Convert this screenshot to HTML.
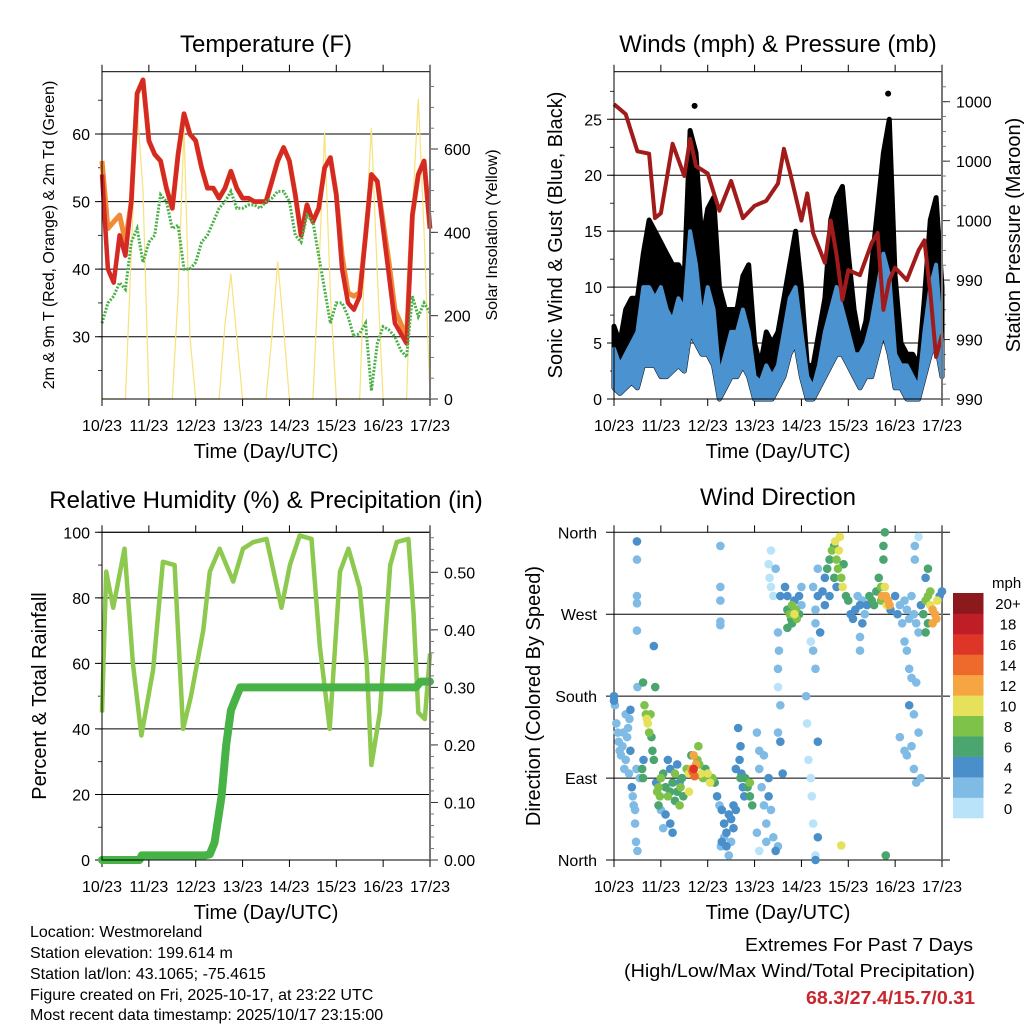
<!DOCTYPE html>
<html><head><meta charset="utf-8"><style>
html,body{margin:0;padding:0;background:#fff;}
svg{display:block;font-family:"Liberation Sans",sans-serif;}
</style></head><body>
<svg id="fig" width="1024" height="1024" viewBox="0 0 1024 1024" xmlns="http://www.w3.org/2000/svg">
<g id="layer"></g>
<text x="266" y="52" font-size="24" text-anchor="middle">Temperature (F)</text>
<text x="778" y="52" font-size="24" text-anchor="middle">Winds (mph) &amp; Pressure (mb)</text>
<text x="266" y="508" font-size="24" text-anchor="middle">Relative Humidity (%) &amp; Precipitation (in)</text>
<text x="778" y="505" font-size="24" text-anchor="middle">Wind Direction</text>
<text transform="translate(54,235) rotate(-90)" font-size="16" text-anchor="middle">2m &amp; 9m T (Red, Orange) &amp; 2m Td (Green)</text>
<text transform="translate(497,235) rotate(-90)" font-size="16" text-anchor="middle">Solar Insolation (Yellow)</text>
<text transform="translate(562,235) rotate(-90)" font-size="20" text-anchor="middle">Sonic Wind &amp; Gust (Blue, Black)</text>
<text transform="translate(1020,235) rotate(-90)" font-size="20" text-anchor="middle">Station Pressure (Maroon)</text>
<text transform="translate(46,696) rotate(-90)" font-size="20" text-anchor="middle">Percent &amp; Total Rainfall</text>
<text transform="translate(540,696) rotate(-90)" font-size="20" text-anchor="middle">Direction (Colored By Speed)</text>
<text x="266" y="458" font-size="20" text-anchor="middle">Time (Day/UTC)</text>
<text x="778" y="458" font-size="20" text-anchor="middle">Time (Day/UTC)</text>
<text x="266" y="919" font-size="20" text-anchor="middle">Time (Day/UTC)</text>
<text x="778" y="919" font-size="20" text-anchor="middle">Time (Day/UTC)</text>
<g font-size="16">
<text x="30" y="937">Location: Westmoreland</text>
<text x="30" y="958">Station elevation: 199.614 m</text>
<text x="30" y="979">Station lat/lon: 43.1065; -75.4615</text>
<text x="30" y="1000">Figure created on Fri, 2025-10-17, at 23:22 UTC</text>
<text x="30" y="1020">Most recent data timestamp: 2025/10/17 23:15:00</text>
</g>
<text x="745" y="951" font-size="18" textLength="228" lengthAdjust="spacingAndGlyphs">Extremes For Past 7 Days</text>
<text x="624" y="977" font-size="18" textLength="351" lengthAdjust="spacingAndGlyphs">(High/Low/Max Wind/Total Precipitation)</text>
<text x="806" y="1004" font-size="18" font-weight="bold" fill="#c8272e" textLength="169" lengthAdjust="spacingAndGlyphs">68.3/27.4/15.7/0.31</text>
</svg>
<script>
// ---------- DATA ----------
const dayLabels = ["10/23","11/23","12/23","13/23","14/23","15/23","16/23","17/23"];
const tStep8 = [0,0.125,0.25,0.375,0.5,0.625,0.75,0.875,1,1.125,1.25,1.375,1.5,1.625,1.75,1.875,2,2.125,2.25,2.375,2.5,2.625,2.75,2.875,3,3.125,3.25,3.375,3.5,3.625,3.75,3.875,4,4.125,4.25,4.375,4.5,4.625,4.75,4.875,5,5.125,5.25,5.375,5.5,5.625,5.75,5.875,6,6.125,6.25,6.375,6.5,6.625,6.75,6.875,7];
const temp2m = [54,40,38,45,42,50,66,68,59,57,56,52,49,57,63,60,59,55,52,52,50.5,52,54.5,52,50.5,50.5,50,50,50,53,56,58,56,51,45,49.5,47,49,55,56.5,51,40,35,34,36,45,54,53,46,39,32,30.5,29,48,54,56,46];
const temp9m = [56,46,47,48,44,50,66,68,59,57,56,52,49,57,63,60,59,55,52,52,50.5,52,54.5,52,50.5,50.5,50,50,50,53,56,58,56,51,45,49.5,47,49,55,56.5,51,42,36.5,36,36.5,45,54,53,47,41,34,32,30,48,54,56,46];
const dewpoint = [32,35,36,38,37,44,46,41,44,45,51,50,46,46.5,40,40,41,44,45,47,49,50,51.5,49,49,49.5,49.5,49,50,50.5,51.5,51.5,50,45,44,48,47,42,37,32,35,35,33,30,30.5,32,22,29,31.5,31,30,28,27,36,33,35,33.5];
const solar = [0,0,0,0,0,350,700,500,0,0,0,0,0,250,650,150,0,0,0,0,0,180,300,150,0,0,0,0,0,150,330,170,0,0,0,0,0,300,640,250,0,0,0,0,0,400,650,300,0,0,0,0,0,450,720,400,0];
const windHigh = [4.5,3,4,5,6,10,10,9,10,8,7,9,8,15,12,7,10,8,2,4,6,6,8,6,2,1.5,3,2,3,6,9,10,6,2,1,3,6,8,10,8,6,4,4,5,7,10,13,11,4,3,3,2,1,6,10,12,5];
const windLow = [1,0.5,1,1.5,1,3,3,3,2,2,2.5,3,2.5,6,5,4,4,3,0,1,2,2,3,2,0,0,0,0,1,2,4,5,2,0,0,1,2,3,4,4,3,2,1,2,2,4,6,4,1,1,0,0,0,2,4,5,2];
const gust = [6.5,5,8,9,9,13,16,15,14,13,12,12,11,24,22,14,17,18,10,8,8,8,11,12,5,3,6,5,6,9,12,15,10,3,3,6,9,16,18,19,13,8,5,7,12,17,22,25,11,5,4,4,3,9,16,18,10];
const gustPeakT = [1.72,5.85];
const gustPeakV = [26.2,27.3];
const pressT = [0,0.25,0.5,0.75,0.875,1,1.25,1.5,1.625,1.75,2,2.25,2.5,2.75,3,3.25,3.5,3.625,3.75,4,4.125,4.25,4.5,4.625,4.75,4.875,5,5.25,5.5,5.625,5.75,5.875,6,6.25,6.5,6.625,6.75,6.875,7];
const pressV = [999.9,999.5,998,997.9,995.3,995.5,998.3,997,998.5,997.4,997.1,995.6,996.8,995.3,995.8,996,996.7,998.1,997.2,995.2,996.3,994.7,993.5,995.2,993.8,992,993.2,993,994.3,994.7,991.6,992.8,993.3,992.8,994,994.4,992.3,989.7,990.6];
const pressTickVals = [988,990.4,992.8,995.2,997.6,1000];
const rhT = [0,0.09,0.24,0.48,0.66,0.84,1.09,1.3,1.55,1.73,1.9,2.16,2.3,2.51,2.8,3.01,3.23,3.51,3.83,4.01,4.22,4.47,4.65,4.86,5.08,5.26,5.5,5.65,5.75,5.93,6.15,6.29,6.54,6.65,6.75,6.89,7];
const rhV = [45,88,77,95,60,38,58,91,90,40,50,70,88,95,85,95,97,98,77,90,99,98,65,40,88,95,83,60,29,45,90,97,98,75,45,43,63];
const precipT = [0,0.8,0.85,2.2,2.3,2.4,2.55,2.65,2.75,2.85,2.95,6.7,6.8,7];
const precipV = [0,0,0.008,0.008,0.01,0.03,0.11,0.2,0.26,0.28,0.3,0.3,0.31,0.31];
const dirLabels = ["North","East","South","West","North"];
const speedBinLabels = ["0","2","4","6","8","10","12","14","16","18","20+"];
const dirT = [0,0,0.02,0.05,0.08,0.1,0.12,0.15,0.18,0.2,0.22,0.25,0.28,0.3,0.32,0.35,0.35,0.38,0.4,0.42,0.45,0.47,0.45,0.33,0.25,
0.62,0.65,0.68,0.7,0.72,0.75,0.78,0.8,0.82,0.85,0.88,0.6,0.62,0.63,0.9,0.92,0.95,0.98,1.0,0.95,0.55,0.5,0.48,0.5,0.49,0.49,0.49,0.49,0.85,0.49,
1.05,1.1,1.15,1.2,1.2,1.25,1.3,1.3,1.35,1.4,1.42,1.45,1.48,1.2,1.25,1.15,1.1,1.0,1.05,1.35,1.4,
1.55,1.6,1.65,1.68,1.7,1.72,1.75,1.7,1.78,1.8,1.82,1.85,1.9,1.95,2.0,2.05,2.1,2.15,2.2,2.25,1.6,1.65,
2.27,2.27,2.27,2.27,2.27,
2.3,2.35,2.4,2.45,2.5,2.55,2.3,2.4,2.35,2.5,2.6,2.55,2.45,2.28,
2.65,2.7,2.68,2.72,2.75,2.78,2.8,2.85,2.9,2.95,2.7,2.6,2.9,
3.05,3.1,3.1,3.15,3.2,3.25,3.3,3.3,3.35,3.4,3.45,3.5,3.05,3.1,3.25,3.2,
3.3,3.35,3.32,3.35,3.4,3.45,3.55,3.5,3.52,3.5,3.5,3.55,3.5,3.55,3.6,
3.65,3.7,3.7,3.75,3.78,3.8,3.85,3.88,3.9,3.95,3.8,3.7,3.85,3.95,4.0,4.0,
4.1,4.12,4.15,4.2,4.22,4.25,4.2,4.25,4.3,4.3,4.35,4.4,4.35,4.3,4.3,4.35,4.3,4.35,4.25,
4.45,4.5,4.55,4.6,4.65,4.7,4.72,4.75,4.78,4.8,4.82,4.85,4.88,4.9,4.6,4.5,4.7,4.75,4.85,
4.95,5.0,5.05,5.1,5.15,5.2,5.25,5.3,5.35,5.4,5.45,5.5,5.55,5.6,5.25,5.25,5.3,
5.65,5.7,5.72,5.75,5.78,5.8,5.82,5.85,5.88,5.75,5.78,5.8,5.7,5.9,
6.0,6.05,6.1,6.15,6.2,6.25,6.3,6.35,6.4,6.45,6.5,6.2,6.25,6.3,6.35,6.3,6.1,6.2,6.25,6.35,6.4,6.45,6.45,6.4,6.5,6.55,6.42,6.5,6.42,
6.55,6.6,6.65,6.7,6.75,6.8,6.85,6.88,6.9,6.95,6.7,6.65,6.65,6.7,6.75,6.8,7.0];
const dirDeg = [180,175,170,150,140,130,120,115,125,140,100,110,135,145,95,120,165,80,70,60,40,20,55,155,160,
195,170,160,155,150,140,160,135,120,110,190,100,90,110,85,75,80,70,90,60,90,190,100,10,350,330,282,252,235,290,
95,80,70,100,75,85,65,95,75,60,80,90,70,40,30,110,50,55,35,105,85,
100,95,100,97,100,92,105,115,110,125,105,95,90,100,95,85,90,85,70,60,75,115,
345,285,300,262,258,
55,40,30,50,45,35,20,15,25,20,55,60,5,15,
145,125,110,95,80,70,90,80,70,60,90,100,85,
140,120,100,80,60,40,90,70,55,25,10,15,30,10,20,115,
325,340,310,300,290,320,290,250,230,210,190,170,140,130,95,
300,290,275,270,265,280,270,275,265,270,260,255,285,290,280,300,
180,150,110,90,70,40,240,230,210,260,290,250,130,5,0,25,275,320,300,
295,310,320,330,340,345,350,330,320,340,355,310,300,325,290,280,310,300,16,
290,285,270,265,275,290,280,285,270,280,290,285,280,295,245,230,260,
310,300,290,330,300,290,280,285,280,345,360,5,285,275,
290,270,280,260,285,275,265,290,270,260,250,240,230,210,200,170,135,120,115,125,100,85,195,160,140,90,330,355,345,
280,270,285,290,280,275,270,265,285,290,260,250,310,320,295,260,295];
const dirSpeed = [4,4,3,2,2,2,2,3,2,2,2,2,3,2,3,4,4,4,3,2,3,2,2,2,2,
6,8,8,10,10,8,8,6,6,6,6,6,6,4,4,8,8,8,8,6,2,2,2,2,4,3,2,2,4,2,
6,6,8,4,6,6,6,8,6,8,8,6,6,4,4,4,4,2,2,4,4,
8,10,12,14,16,14,12,12,8,8,8,10,8,6,10,10,8,6,4,2,10,6,
2,2,2,3,3,
4,4,4,4,4,4,4,4,3,2,4,4,2,2,
4,4,4,4,4,4,6,6,6,6,6,4,8,
2,2,2,2,2,2,4,4,2,2,4,2,2,0,2,2,
0,0,0,0,0,2,4,2,2,2,0,2,2,4,4,
4,4,6,8,6,8,10,8,8,6,6,6,4,4,2,2,
2,0,0,0,0,0,0,2,2,2,4,4,4,0,4,4,2,2,2,
4,4,6,6,8,6,10,8,8,10,10,8,10,6,4,4,6,4,10,
6,6,4,4,4,2,4,2,2,4,6,6,6,6,2,2,4,
6,8,12,6,10,12,10,12,12,6,6,6,8,4,
4,4,2,2,2,2,2,2,2,2,2,2,2,2,2,4,2,2,2,2,2,2,2,2,2,2,2,0,2,
4,6,8,8,10,12,12,12,10,4,6,6,4,6,8,12,4];

// ---------- HELPERS ----------
const NS = "http://www.w3.org/2000/svg";
const layer = document.getElementById("layer");
function mk(tag, attrs, parent) {
  const e = document.createElementNS(NS, tag);
  for (const k in attrs) e.setAttribute(k, attrs[k]);
  (parent || layer).appendChild(e);
  return e;
}
function lin(d0, d1, r0, r1) { return v => r0 + (v - d0) * (r1 - r0) / (d1 - d0); }
const speedColors = ["#b8e3f8","#7fbbe5","#4a8fca","#4aa56f","#7fc24a","#e5e15a","#f5a541","#ee6a2c","#dd3528","#c01e26","#8c1a1c"];
const TF = 16;

function panel(name, x0, x1, y0, y1) {
  const g = mk("g", {});
  
  
  return { g, x0, x1, y0, y1, x: lin(0, 7, x0, x1) };
}
function xAxis(p, name) {
  const g = mk("g", {}, p.g);
  
  
  dayLabels.forEach((lab, i) => {
    const x = p.x(i);
    const t1 = mk("line", { x1: x, x2: x, y1: p.y0, y2: p.y0 - 7, stroke: "#000", "stroke-width": 1 }, g);
    
    
    const t2 = mk("line", { x1: x, x2: x, y1: p.y1, y2: p.y1 + 7, stroke: "#000", "stroke-width": 1 }, g);
    
    
    const tx = mk("text", { x: x, y: p.y1 + 32, "font-size": TF, "text-anchor": "middle" }, g);
    
    
    tx.textContent = lab;
  });
}
function leftAxis(p, yf, majors, minors, labels, name, grid) {
  const g = mk("g", {}, p.g);
  
  
  minors.forEach(v => {
    const y = yf(v);
    const l = mk("line", { x1: p.x0, x2: p.x0 - 4, y1: y, y2: y, stroke: "#000", "stroke-width": 0.8 }, g);
    
    
  });
  majors.forEach((v, i) => {
    const y = yf(v);
    const l = mk("line", { x1: p.x0 - 7, x2: grid ? p.x1 : p.x0, y1: y, y2: y, stroke: "#000", "stroke-width": 1 }, g);
    
    
    const t = mk("text", { x: p.x0 - 12, y: y + 6, "font-size": TF, "text-anchor": "end" }, g);
    
    
    t.textContent = labels[i];
  });
}
function rightAxis(p, yf, majors, minors, labels, name) {
  const g = mk("g", {}, p.g);
  
  
  minors.forEach(v => {
    const y = yf(v);
    const l = mk("line", { x1: p.x1, x2: p.x1 + 4, y1: y, y2: y, stroke: "#555", "stroke-width": 0.8 }, g);
    
    
  });
  majors.forEach((v, i) => {
    const y = yf(v);
    const l = mk("line", { x1: p.x1, x2: p.x1 + 8, y1: y, y2: y, stroke: "#333", "stroke-width": 1 }, g);
    
    
    const t = mk("text", { x: p.x1 + 14, y: y + 6, "font-size": TF }, g);
    
    
    t.textContent = labels[i];
  });
}
function frame(p) {
  const r = mk("rect", { x: p.x0, y: p.y0, width: p.x1 - p.x0, height: p.y1 - p.y0, fill: "none", stroke: "#000", "stroke-width": 1 }, p.g);
  
  
  const rr = mk("line", { x1: p.x1, x2: p.x1, y1: p.y0, y2: p.y1, stroke: "#777", "stroke-width": 2 }, p.g);
  
  
}
function pathFrom(ts, vs, xf, yf) {
  return ts.map((t, i) => (i ? "L" : "M") + xf(t).toFixed(1) + "," + yf(vs[i]).toFixed(1)).join("");
}
function range(a, b, s) { const r = []; for (let v = a; v <= b + 1e-9; v += s) r.push(+v.toFixed(4)); return r; }

// ---------- PANEL 1: TEMPERATURE ----------
{
  const p = panel("temperature-panel", 102, 430, 71.7, 399);
  const y = lin(30, 60, 336.7, 134);
  const ys = lin(0, 600, 399, 149);
  leftAxis(p, y, [30, 40, 50, 60], range(25, 65, 5), ["30", "40", "50", "60"], "temperature-y-axis", true);
  rightAxis(p, ys, [0, 200, 400, 600], range(0, 750, 50), ["0", "200", "400", "600"], "solar-y-axis");
  xAxis(p, "temperature-x-axis");
  const s = mk("path", { d: pathFrom(tStep8, solar, p.x, ys), fill: "none", stroke: "#f7e27c", "stroke-width": 1.2 }, p.g);
  
  
  const o = mk("path", { d: pathFrom(tStep8, temp9m, p.x, y), fill: "none", stroke: "#f08a34", "stroke-width": 5, "stroke-linejoin": "round" }, p.g);
  
  
  const r = mk("path", { d: pathFrom(tStep8, temp2m, p.x, y), fill: "none", stroke: "#d42a23", "stroke-width": 4.5, "stroke-linejoin": "round" }, p.g);
  
  
  const d = mk("path", { d: pathFrom(tStep8, dewpoint, p.x, y), fill: "none", stroke: "#4cb04a", "stroke-width": 3, "stroke-dasharray": "2 1.5" }, p.g);
  
  
  frame(p);
}

// ---------- PANEL 2: WINDS ----------
{
  const p = panel("winds-panel", 614, 942, 71.7, 399);
  const y = lin(0, 25, 399, 119.3);
  const yp = lin(988, 1000, 399, 101.7);
  leftAxis(p, y, [0, 5, 10, 15, 20, 25], range(0, 29, 2.5), ["0", "5", "10", "15", "20", "25"], "wind-y-axis", true);
  rightAxis(p, yp, pressTickVals, range(988, 1001, 0.6), pressTickVals.map(v => String(Math.round(v / 10) * 10)), "pressure-y-axis");
  xAxis(p, "winds-x-axis");
  const gp = pathFrom(tStep8, gust, p.x, y) + tStep8.slice().reverse().map(t => "L" + p.x(t).toFixed(1) + "," + y(windLow[tStep8.indexOf(t)]).toFixed(1)).join("") + "Z";
  const ga = mk("path", { d: gp, fill: "#000", stroke: "#000", "stroke-width": 5, "stroke-linejoin": "round" }, p.g);
  
  
  gustPeakT.forEach((t, i) => {
    const c = mk("circle", { cx: p.x(t), cy: y(gustPeakV[i]), r: 3, fill: "#000" }, p.g);
    
    
  });
  const wp = pathFrom(tStep8, windHigh, p.x, y) + tStep8.slice().reverse().map(t => "L" + p.x(t).toFixed(1) + "," + y(windLow[tStep8.indexOf(t)]).toFixed(1)).join("") + "Z";
  const wa = mk("path", { d: wp, fill: "#4b93d0", stroke: "#4b93d0", "stroke-width": 4, "stroke-linejoin": "round" }, p.g);
  
  
  const pl = mk("path", { d: pathFrom(pressT, pressV, p.x, yp), fill: "none", stroke: "#a11b1b", "stroke-width": 4, "stroke-linejoin": "round" }, p.g);
  
  
  frame(p);
}

// ---------- PANEL 3: HUMIDITY ----------
{
  const p = panel("humidity-panel", 102, 430, 532.3, 860);
  const y = lin(0, 100, 860, 532.3);
  const yr = lin(0, 0.5, 860, 572.3);
  leftAxis(p, y, [0, 20, 40, 60, 80, 100], range(0, 100, 10), ["0", "20", "40", "60", "80", "100"], "humidity-y-axis", true);
  rightAxis(p, yr, [0, 0.1, 0.2, 0.3, 0.4, 0.5], range(0, 0.56, 0.02), ["0.00", "0.10", "0.20", "0.30", "0.40", "0.50"], "precip-y-axis");
  xAxis(p, "humidity-x-axis");
  const rh = mk("path", { d: pathFrom(rhT, rhV, p.x, y), fill: "none", stroke: "#8dc84f", "stroke-width": 4.5, "stroke-linejoin": "round" }, p.g);
  
  
  const pr = mk("path", { d: pathFrom(precipT, precipV, p.x, yr), fill: "none", stroke: "#47b347", "stroke-width": 8, "stroke-linejoin": "round", "stroke-linecap": "round" }, p.g);
  
  
  frame(p);
}

// ---------- PANEL 4: WIND DIRECTION ----------
{
  const p = panel("wind-direction-panel", 614, 942, 532.3, 860);
  const y = lin(0, 360, 860, 532.3);
  const g = mk("g", {}, p.g);
  
  
  dirLabels.forEach((lab, i) => {
    const yy = y(i * 90);
    const l = mk("line", { x1: p.x0 - 8, x2: p.x1 + 8, y1: yy, y2: yy, stroke: "#000", "stroke-width": 1 }, g);
    
    
    const t = mk("text", { x: p.x0 - 17, y: yy + 6, "font-size": TF, "text-anchor": "end" }, g);
    
    
    t.textContent = lab;
  });
  xAxis(p, "direction-x-axis");
  const lx = mk("line", { x1: p.x0, x2: p.x0, y1: p.y0, y2: p.y1, stroke: "#000" }, p.g);
  
  
  const rx = mk("line", { x1: p.x1, x2: p.x1, y1: p.y0, y2: p.y1, stroke: "#777", "stroke-width": 2 }, p.g);
  
  
  const order = dirT.map((t, i) => i).sort((a, b) => dirSpeed[a] - dirSpeed[b]);
  order.forEach(i => {
    const bin = Math.min(10, Math.floor(dirSpeed[i] / 2));
    const c = mk("circle", { cx: p.x(dirT[i]), cy: y(dirDeg[i]), r: 4.3, fill: speedColors[bin] }, p.g);
    
    
  });
  // colorbar
  const cb = mk("g", {}, p.g);
  
  
  const top = 593, h = 225 / 11;
  const mt = mk("text", { x: 992, y: 588, "font-size": 15 }, cb);
  
  
  mt.textContent = "mph";
  speedBinLabels.forEach((lab, i) => {
    const k = 10 - i;
    const r = mk("rect", { x: 953, y: top + k * h, width: 30.5, height: h + 0.3, fill: speedColors[i] }, cb);
    
    
    const t = mk("text", { x: 1008, y: top + k * h + h / 2 + 6, "font-size": 15, "text-anchor": "middle" }, cb);
    
    
    t.textContent = lab;
  });
}
</script>
</body></html>
